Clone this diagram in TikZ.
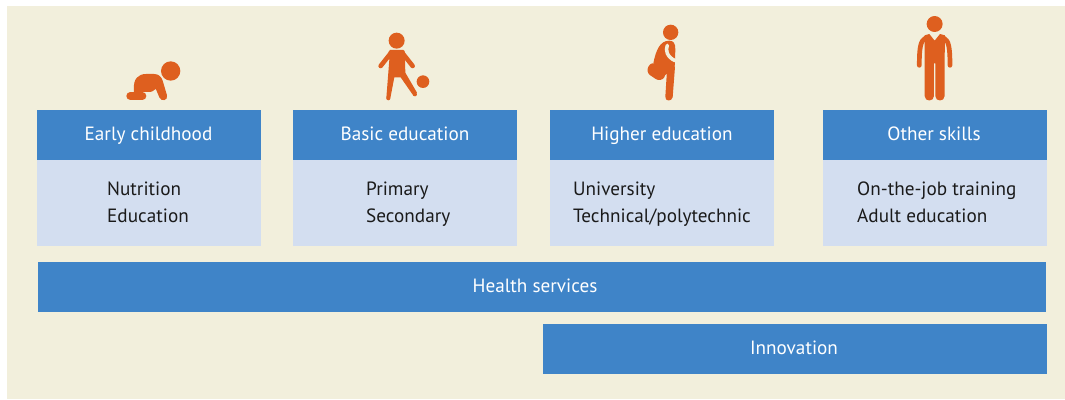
\documentclass[tikz,border=0pt]{standalone}
\usepackage{fontspec}
\setmainfont{PT Sans}
\definecolor{bgc}{HTML}{F2EFDC}
\definecolor{headc}{HTML}{3F84C8}
\definecolor{bodyc}{HTML}{D3DEF0}
\definecolor{iconc}{HTML}{DE5F1F}
\definecolor{inkc}{HTML}{1A1A1A}
\newcommand{\lv}{\vphantom{Ag}}
\tikzset{
  headbox/.style={fill=headc,text=white,draw=none,inner sep=0pt},
  headtext/.style={text=white,inner sep=0pt,text height=13pt,text depth=4pt,font=\fontsize{19.2}{21}\selectfont},
  bodybox/.style={fill=bodyc,draw=none,inner sep=0pt},
  listtext/.style={text=inkc,anchor=west,inner sep=0pt,align=left,font=\fontsize{19.2}{27}\selectfont},
  icon/.style={fill=iconc,draw=none},
  limb/.style={draw=iconc,line cap=round,line join=round},
  zoomA/.style={shift={(110,20)},x=0.3333pt,y=-0.3333pt},
  zoomB/.style={shift={(630,10)},x=0.3333pt,y=-0.3333pt}
}
\newcommand{\boxpx}[6]{% name,x0,y0,x1,y1,style
  \node[#6,minimum width=#4pt-#2pt,minimum height=#5pt-#3pt] (#1) at ({(#2+#4)/2},{(#3+#5)/2}) {};}
\begin{document}
\begin{tikzpicture}[x=1pt,y=-1pt]
\useasboundingbox (0,0) rectangle (1065,399);
\fill[white] (0,0) rectangle (1065,399);
\fill[bgc] (7,6) rectangle (1065,399);
% columns
\boxpx{h1}{37}{110}{261}{160}{headbox}
\boxpx{b1}{37}{160}{261}{246}{bodybox}
\boxpx{h2}{293}{110}{517}{160}{headbox}
\boxpx{b2}{293}{160}{517}{246}{bodybox}
\boxpx{h3}{550}{110}{774}{160}{headbox}
\boxpx{b3}{550}{160}{774}{246}{bodybox}
\boxpx{h4}{823}{110}{1047}{160}{headbox}
\boxpx{b4}{823}{160}{1047}{246}{bodybox}
\boxpx{health}{38}{262}{1046}{312}{headbox}
\boxpx{innov}{543}{324}{1047}{374}{headbox}
\node[headtext] (t1) at (148.5,136) {Early childhood};
\node[headtext] (t2) at (405,136) {Basic education};
\node[headtext] (t3) at (662,136) {Higher education};
\node[headtext] (t4) at (934,136) {Other skills};
\node[headtext] (t5) at (535,288) {Health services};
\node[headtext] (t6) at (794,350) {Innovation};
\node[listtext] (l1) at (107,204) {\lv Nutrition\\\lv Education};
\node[listtext] (l2) at (366,204) {\lv Primary\\\lv Secondary};
\node[listtext] (l3) at (573,204) {\lv University\\\lv Technical/polytechnic};
\node[listtext] (l4) at (857,204) {\lv On-the-job training\\\lv Adult education};
% baby
\begin{scope}[zoomA]
\fill[icon] (182,153) circle (29);
\draw[limb,line width=8pt] (61,228) -- (97,228);
\fill[icon] (72,205) .. controls (70,178) and (84,162) .. (108,162) -- (132,162) .. controls (146,162) and (154,170) .. (158,182) -- (171,226) .. controls (175,242) and (153,246) .. (148,232) -- (138,208) .. controls (136,204) and (130,216) .. (120,216) -- (100,216) -- (84,216) -- (72,216) -- cycle;
\fill[icon] (860,62) circle (24);
\draw[limb,line width=4.6pt] (842,100) -- (812,138);
\draw[limb,line width=4.6pt] (878,100) -- (908,138);
\fill[icon] (840,90) -- (880,90) .. controls (884,90) and (885,95) .. (885,100) -- (886,158) -- (921,218) -- (911,228) -- (872,172) -- (853,172) -- (841,235) -- (829,235) -- (838,120) -- (836,95) -- cycle;
\fill[icon] (835,235) circle (6);
\fill[icon] (915,223) circle (6);
\fill[icon] (939,185) circle (19);
\end{scope}
% student
\begin{scope}[zoomB]
\fill[icon] (122,67) circle (23);
\fill[icon] (70,160) .. controls (78,120) and (90,92) .. (118,92) .. controls (130,92) and (137,100) .. (136,120) -- (134,172) -- (100,200) -- (72,160) -- cycle;
\fill[icon,rounded corners=6pt] (66,152) -- (46,186) -- (92,217) -- (112,190) -- cycle;
\fill[icon] (112,165) -- (135,170) -- (128,262) .. controls (125,275) and (105,275) .. (106,260) -- cycle;
\draw[bgc,line width=3.5pt,line cap=round] (112,106) .. controls (106,120) and (110,140) .. (135,152);
\fill[icon] (914,42) circle (24);
\fill[icon] (898,72) -- (914,92) -- (930,72) -- (945,76) -- (944,150) -- (944,258) .. controls (944,276) and (916,276) .. (916,258) -- (916,160) -- (912,160) -- (912,258) .. controls (912,276) and (884,276) .. (884,258) -- (884,76) -- cycle;
\draw[limb,line width=4.7pt] (887,84) .. controls (872,92) and (868,110) .. (868,166);
\draw[limb,line width=4.7pt] (941,84) .. controls (956,92) and (960,110) .. (960,166);
\end{scope}
\end{tikzpicture}
\end{document}
